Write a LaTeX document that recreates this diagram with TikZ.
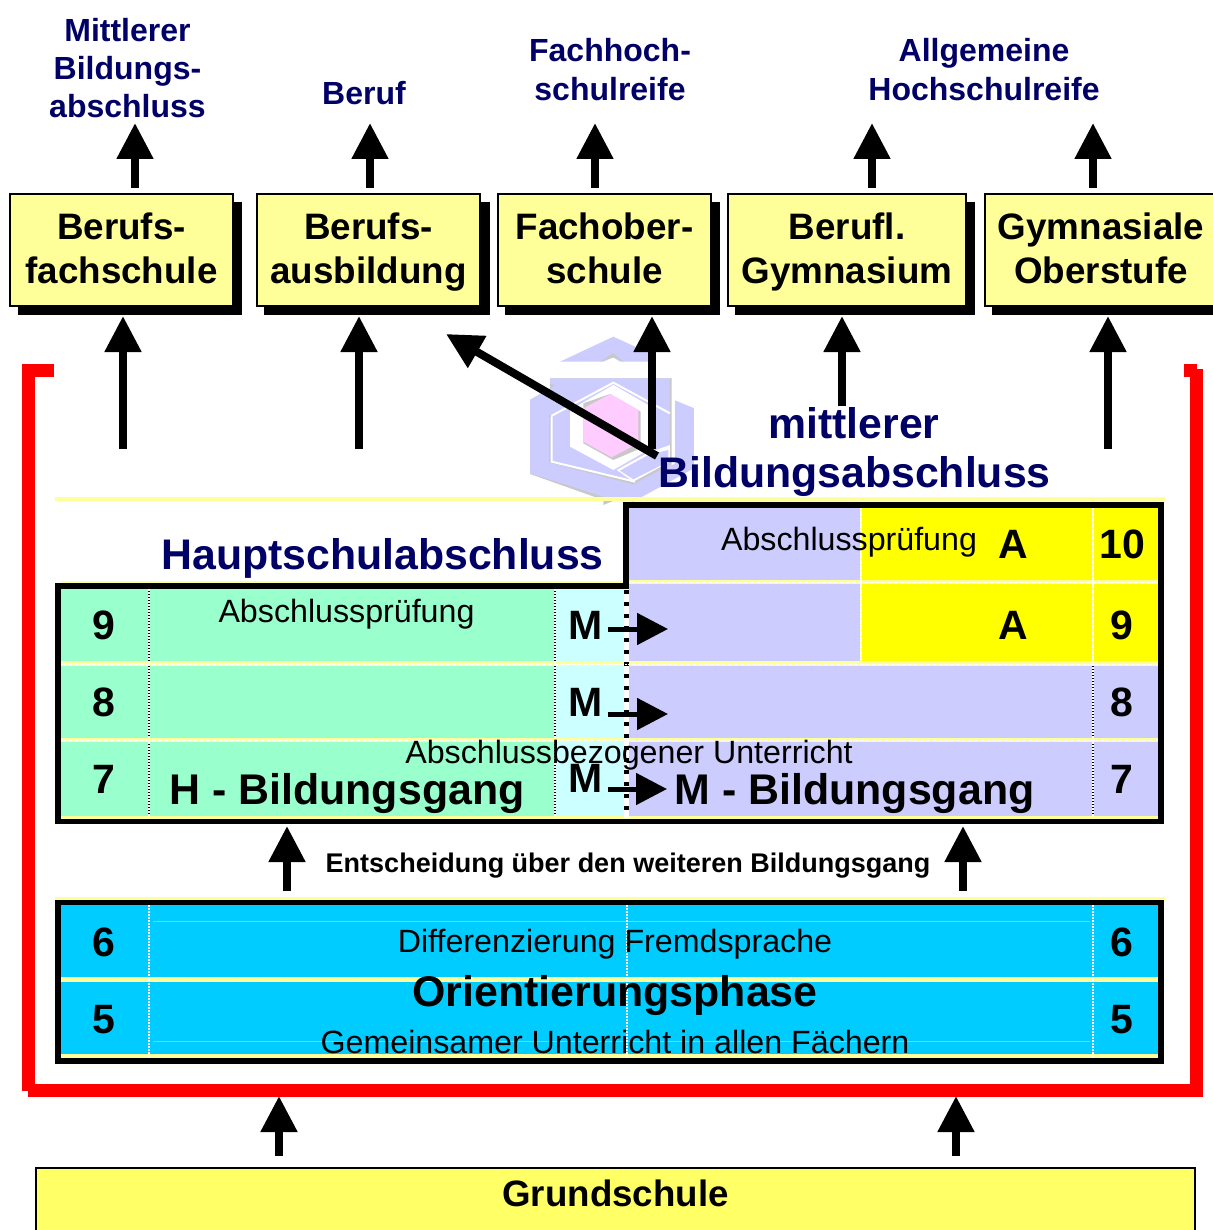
\documentclass[tikz,border=0pt]{standalone}
\usepackage{fontspec}
\setmainfont{Liberation Sans}
\usetikzlibrary{arrows.meta}
\definecolor{navytxt}{HTML}{000066}
\definecolor{boxyel}{HTML}{FFFF99}
\definecolor{grund}{HTML}{FFFF66}
\definecolor{peri}{HTML}{CCCCFF}
\definecolor{mint}{HTML}{99FFCC}
\definecolor{icy}{HTML}{CCFFFF}
\definecolor{sky}{HTML}{00CCFF}
\definecolor{pinkish}{HTML}{FFCCFF}
\definecolor{shadowgrey}{HTML}{C8C8C8}
\definecolor{pureyel}{RGB}{255,255,0}
\definecolor{purered}{RGB}{255,0,0}
\newcommand\pxsize[1]{\fontsize{#1}{#1}\selectfont}
\newcommand\twolines[2]{\rule{0pt}{32pt}#1\\\rule[-9pt]{0pt}{9pt}#2}
\tikzset{
  schoolbox/.style={draw=black,line width=2pt,fill=boxyel,inner sep=0pt,align=center,
    font=\pxsize{36.8}\bfseries,execute at begin node={\baselineskip=44pt}},
  lbl/.style={anchor=base,inner sep=0pt,outer sep=0pt},
  toplabel/.style={lbl,font=\pxsize{32}\bfseries,text=navytxt},
  headline/.style={lbl,font=\pxsize{42.8}\bfseries,text=navytxt},
  plain/.style={lbl,font=\pxsize{32.2}},
  bigbold/.style={lbl,font=\pxsize{42.9}\bfseries},
  numlabel/.style={lbl,font=\pxsize{41}\bfseries},
  bigarrow/.style={line width=8pt,-{Triangle[width=35pt,length=36pt]}},
  smallarrow/.style={line width=5pt,-{Triangle[width=31pt,length=31pt]}},
  griddots/.style={white,line width=1.2pt,dash pattern=on 1.5pt off 1.5pt},
}
\begin{document}
\begin{tikzpicture}[x=1pt,y=-1pt]
\useasboundingbox (0,0) rectangle (1212,1230);
% watermark
\begin{scope}[shift={(500,320)},x=0.3333pt,y=-0.3333pt]
  \fill[shadowgrey] (310,540)--(90,462)--(90,240)--(150,205)--(150,175)--(515,175)--(515,238)--(582,265)--(582,445)--(310,555)--cycle;
  \fill[peri] (90,240)--(165,197)--(150,190)--(150,175)--(510,175)--(510,235)--(582,265)--(582,445)--(400,545)--(310,530)--(90,460)--cycle;
  \fill[peri] (180,125)--(340,50)--(445,98)--(445,125)--(360,125)--(340,112)--(310,125)--cycle;
  \fill[shadowgrey] (300,125)--(340,100)--(372,125)--(340,112)--cycle;
  \fill[white] (512,176)--(525,176)--(525,430)--(512,437)--cycle;
  \fill[shadowgrey] (510,175)--(515,175)--(515,434)--(510,437)--cycle;
  \draw[white,line width=2pt] (150,290)--(340,188)--(510,280);
  \draw[shadowgrey,line width=2pt] (150,285)--(150,425)--(400,490)--(510,430);
  \draw[white,line width=2pt] (155,290)--(155,425)--(405,485);
  \fill[white] (210,270)--(340,195)--(445,255)--(445,390)--(340,450)--(210,380)--cycle;
  \fill[shadowgrey] (250,250)--(330,222)--(422,275)--(422,385)--(340,420)--(250,370)--cycle;
  \fill[pinkish] (250,265)--(332,222)--(415,270)--(415,370)--(335,412)--(250,365)--cycle;
  \fill[white] (350,450)--(440,400)--(510,375)--(510,425)--(400,485)--cycle;
  \fill[peri] (360,452)--(445,405)--(505,390)--(505,425)--(400,478)--cycle;
\end{scope}
% pale rules
\fill[boxyel] (55,497) rectangle (1165,501);
\fill[boxyel] (55,897) rectangle (1165,901);
% red frame
\draw[purered,line width=13pt,miter limit=10] (54,370.5)--(28.5,370.5)--(28.5,1090)--(1196.5,1090)--(1196.5,370)--(1184,370);
\fill[white] (21,1090.5) rectangle (28,1098);
\fill[white] (1197,362) rectangle (1204,369);
% school boxes with shadows
\fill[black] (18,202) rectangle (242,315);
\fill[black] (264,202) rectangle (490,315);
\fill[black] (505,202) rectangle (720,315);
\fill[black] (735,202) rectangle (975,315);
\fill[black] (992,202) rectangle (1225,315);
\node[schoolbox,minimum width=223pt,minimum height=112pt] (b1) at (121.5,250) {\twolines{Berufs-}{fachschule}};
\node[schoolbox,minimum width=223pt,minimum height=112pt] (b2) at (368.5,250) {\twolines{Berufs-}{ausbildung}};
\node[schoolbox,minimum width=213pt,minimum height=112pt] (b3) at (604.5,250) {\twolines{Fachober-}{schule}};
\node[schoolbox,minimum width=238pt,minimum height=112pt] (b4) at (847,250) {\twolines{Berufl.}{Gymnasium}};
\node[schoolbox,minimum width=232pt,minimum height=112pt] (b5) at (1101,250) {\twolines{Gymnasiale}{Oberstufe}};
% grade table upper: frame
\fill[black] (55,583) rectangle (1164,824);
\fill[black] (623,502) rectangle (1164,590);
\fill[white] (61,817) rectangle (1158,818);
% row separators
\fill[boxyel] (61,581) rectangle (623,583);
\fill[boxyel] (629,508) rectangle (1158,665);
\fill[boxyel] (61,661) rectangle (1158,666);
\fill[boxyel] (61,738) rectangle (1158,742);
\fill[boxyel] (61,816) rectangle (1158,819);
% cells grade 10
\fill[peri] (629,508) rectangle (860,580);
\fill[pureyel] (862,508) rectangle (1092,580);
\fill[pureyel] (1094,508) rectangle (1158,580);
% cells grade 9
\fill[mint] (61,589) rectangle (148,661);
\fill[mint] (150,589) rectangle (554,661);
\fill[icy] (556,589) rectangle (624,661);
\fill[peri] (629,584) rectangle (860,661);
\fill[pureyel] (862,584) rectangle (1092,661);
\fill[pureyel] (1094,584) rectangle (1158,661);
% cells grade 8
\fill[mint] (61,666) rectangle (148,738);
\fill[mint] (150,666) rectangle (554,738);
\fill[icy] (556,666) rectangle (624,738);
\fill[peri] (629,666) rectangle (1092,738);
\fill[peri] (1094,666) rectangle (1158,738);
% cells grade 7
\fill[mint] (61,742) rectangle (148,816);
\fill[mint] (150,742) rectangle (554,816);
\fill[icy] (556,742) rectangle (624,816);
\fill[peri] (629,742) rectangle (1092,816);
\fill[peri] (1094,742) rectangle (1158,816);
% white strip with broken line
\fill[white] (624,589) rectangle (629,818);
\draw[black,line width=5pt,dash pattern=on 4pt off 8pt] (626.5,590)--(626.5,816);
% dotted grid
\draw[griddots] (61,664.5)--(1158,664.5);
\draw[griddots] (61,740.5)--(1158,740.5);
\draw[griddots] (629,582.5)--(1158,582.5);
\draw[griddots] (149,589)--(149,818);
\draw[griddots] (555,589)--(555,818);
\draw[griddots] (861,508)--(861,661);
\draw[griddots] (1093,508)--(1093,818);
% grade table lower
\fill[black] (55,900) rectangle (1164,1064);
\fill[boxyel] (61,1054) rectangle (1158,1058);
\fill[boxyel] (61,977) rectangle (1158,982);
\fill[sky] (61,905) rectangle (1158,977);
\fill[sky] (61,982) rectangle (1158,1054);
\draw[griddots] (61,981.5)--(1158,981.5);
\draw[griddots] (149,905)--(149,1057);
\draw[griddots] (627,905)--(627,1057);
\draw[griddots] (1093,905)--(1093,1057);
\draw[white,opacity=.35,line width=.8pt] (153,921)--(1090,921) (153,1041)--(1090,1041);
% Grundschule
\node[draw=black,line width=2pt,fill=grund,inner sep=0pt,minimum width=1159pt,minimum height=80pt,text depth=0pt,text height=0pt] (gs) at (615.5,1208) {};
\node[lbl,font=\pxsize{36.7}\bfseries] (gst) at (615.5,1206) {Grundschule};
% labels above
\node[toplabel] (t1a) at (127.5,42) {Mittlerer};
\node[toplabel] (t1b) at (127.5,80) {Bildungs-};
\node[toplabel] (t1c) at (127.5,118) {abschluss};
\node[toplabel] (t2) at (364,105) {Beruf};
\node[toplabel] (t3a) at (610,62) {Fachhoch-};
\node[toplabel] (t3b) at (610,101) {schulreife};
\node[toplabel] (t4a) at (984,62) {Allgemeine};
\node[toplabel] (t4b) at (984,101) {Hochschulreife};
% arrow end points
\coordinate (u1) at (135,123);
\coordinate (u2) at (370,123);
\coordinate (u3) at (595,123);
\coordinate (u4) at (872,123);
\coordinate (u5) at (1093,123);
\draw[bigarrow] (b1.north -| u1) ++(0,-5) -- (u1);
\draw[bigarrow] (b2.north -| u2) ++(0,-5) -- (u2);
\draw[bigarrow] (b3.north -| u3) ++(0,-5) -- (u3);
\draw[bigarrow] (b4.north -| u4) ++(0,-5) -- (u4);
\draw[bigarrow] (b5.north -| u5) ++(0,-5) -- (u5);
\coordinate (s1) at (123,449); \coordinate (e1) at (123,316);
\coordinate (s2) at (359,449); \coordinate (e2) at (359,316);
\coordinate (s3) at (652,449); \coordinate (e3) at (652,316);
\coordinate (s4) at (842,406); \coordinate (e4) at (842,316);
\coordinate (s5) at (1108,449); \coordinate (e5) at (1108,316);
\coordinate (s6) at (657,456); \coordinate (e6) at (446,334);
\draw[bigarrow] (s1)--(e1);
\draw[bigarrow] (s2)--(e2);
\draw[bigarrow] (s3)--(e3);
\draw[bigarrow] (s4)--(e4);
\draw[bigarrow] (s5)--(e5);
\draw[bigarrow] (s6)--(e6);
% headlines
\node[headline] (mb1) at (854,438) {mittlerer};
\node[headline] (mb2) at (854.5,487) {Bildungsabschluss};
\node[headline] (hs) at (382.5,569) {Hauptschulabschluss};
% texts in the table
\node[plain] (ap1) at (849,550) {Abschlussprüfung};
\node[plain] (ap2) at (346.5,622) {Abschlussprüfung};
\node[plain] (au) at (629,763) {Abschlussbezogener Unterricht};
\node[bigbold] (hb) at (347,804) {H - Bildungsgang};
\node[bigbold] (mbg) at (854.5,804) {M - Bildungsgang};
\node[numlabel] (n10) at (1122,558) {10};
\node[numlabel] (aa) at (1013.5,558) {A};
\node[numlabel] (ab) at (1013.5,639) {A};
\node[numlabel] (l9) at (104,639) {9};
\node[numlabel] (l8) at (104,716) {8};
\node[numlabel] (l7) at (104,793) {7};
\node[numlabel] (r9) at (1121.5,639) {9};
\node[numlabel] (r8) at (1121.5,716) {8};
\node[numlabel] (r7) at (1121.5,793) {7};
\node[numlabel] (m9) at (585.5,639) {M};
\node[numlabel] (m8) at (585.5,716) {M};
\node[numlabel] (m7) at (585.5,792) {M};
\coordinate (q9) at (668,629);
\coordinate (q8) at (668,714);
\coordinate (q7) at (667,789);
\draw[smallarrow] (m9.east |- q9) ++(5,0) -- (q9);
\draw[smallarrow] (m8.east |- q8) ++(5,0) -- (q8);
\draw[smallarrow] (m7.east |- q7) ++(5,0) -- (q7);
% decision
\node[lbl,font=\pxsize{27}\bfseries] (ent) at (628,872) {Entscheidung über den weiteren Bildungsgang};
\coordinate (d1s) at (287,891); \coordinate (d1e) at (287,826);
\coordinate (d2s) at (963,891); \coordinate (d2e) at (963,826);
\draw[bigarrow] (d1s)--(d1e);
\draw[bigarrow] (d2s)--(d2e);
% lower table text
\node[plain] (df) at (615,952) {Differenzierung Fremdsprache};
\node[bigbold] (or) at (615,1006) {Orientierungsphase};
\node[plain] (gu) at (615,1053) {Gemeinsamer Unterricht in allen Fächern};
\node[numlabel] (l6) at (104,956) {6};
\node[numlabel] (l5) at (104,1033) {5};
\node[numlabel] (r6) at (1121.5,956) {6};
\node[numlabel] (r5) at (1121.5,1033) {5};
% arrows from Grundschule
\coordinate (g1) at (279,1096);
\coordinate (g2) at (956,1096);
\draw[bigarrow] (gs.north -| g1) ++(0,-11) -- (g1);
\draw[bigarrow] (gs.north -| g2) ++(0,-11) -- (g2);
\end{tikzpicture}
\end{document}
